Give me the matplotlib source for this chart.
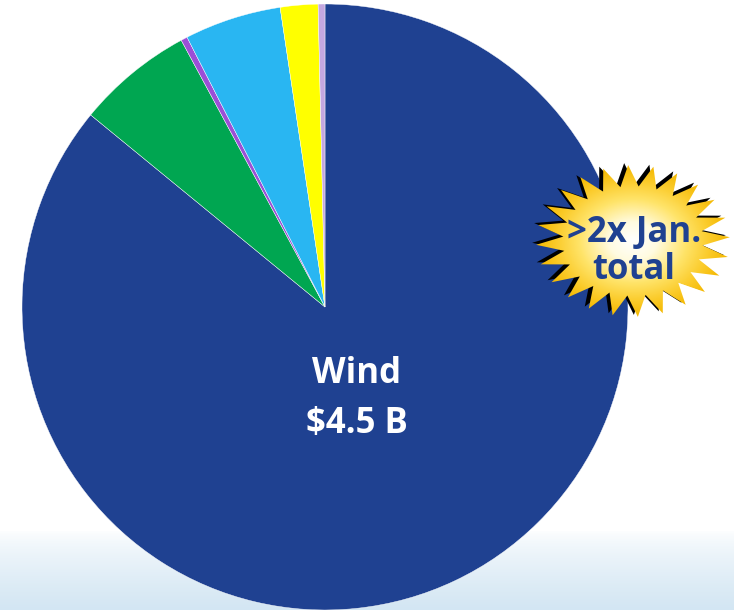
import numpy as np
import matplotlib
matplotlib.use("Agg")
import matplotlib.pyplot as plt
from matplotlib.patches import Polygon
from matplotlib.colors import LinearSegmentedColormap

# investment by source, $B
sources = ["Wind", "Other A", "Other B", "Solar", "Other C", "Other D"]
values = [4.5, 0.325, 0.018, 0.27, 0.105, 0.019]
colors = ["#1F4191", "#00A651", "#9B4FD6", "#29B6F2", "#FFFF00", "#C4A8E0"]
wind_lines = ["Wind", "$4.5 B"]
burst_lines = [">2x Jan.", "total"]

W, H = 734, 610
fig = plt.figure(figsize=(W / 100, H / 100), dpi=100)
ax = fig.add_axes([0, 0, 1, 1])

# pale blue band along the bottom
band = np.linspace(0, 1, 80).reshape(-1, 1) ** 0.7
band_cmap = LinearSegmentedColormap.from_list("band", ["#FFFFFF", "#D3E6F3"])
ax.imshow(band, extent=[0, W, 0, 80], cmap=band_cmap, aspect="auto", zorder=0)

cx, cy, r = 325, 303, 303
ax.pie(values, colors=colors, startangle=90, counterclock=False,
       center=(cx, cy), radius=r, frame=True,
       wedgeprops=dict(linewidth=0.3, edgecolor="white", zorder=1))
ax.set_xlim(0, W)
ax.set_ylim(0, H)
ax.set_aspect("auto")
ax.axis("off")

for txt, base in zip(wind_lines, [383, 433]):
    ax.text(357, H - base, txt, color="white", fontsize=25, fontweight="bold",
            ha="center", va="baseline", family="Open Sans", zorder=3)

# starburst callout
bx, by = 633, H - 241
rx, ry = 97, 76
n = 24
ang = np.linspace(0, 2 * np.pi, 2 * n, endpoint=False) + 0.05
rad = np.where(np.arange(2 * n) % 2 == 0, 1.0, 0.72)
px = bx + rx * rad * np.cos(ang)
py = by + ry * rad * np.sin(ang)
shadow = Polygon(np.column_stack([px - 4, py + 2]), closed=True,
                 facecolor="black", edgecolor="none", zorder=4)
ax.add_patch(shadow)
star = Polygon(np.column_stack([px, py]), closed=True,
               facecolor="none", edgecolor="none", zorder=5)
ax.add_patch(star)
gx, gy = np.meshgrid(np.linspace(-1, 1, 200), np.linspace(-1, 1, 200))
grad = np.sqrt(gx ** 2 + gy ** 2)
burst_cmap = LinearSegmentedColormap.from_list(
    "burst", [(0, "#FFFFFF"), (0.25, "#FFFBE0"), (0.55, "#FFE46A"),
              (0.8, "#FBCB2A"), (1, "#F4B800")])
img = ax.imshow(grad, extent=[bx - rx, bx + rx, by - ry, by + ry],
                cmap=burst_cmap, vmin=0, vmax=1.0, aspect="auto", zorder=5)
img.set_clip_path(star)

for txt, base in zip(burst_lines, [242, 279]):
    ax.text(634, H - base, txt, color="#1F4191", fontsize=25,
            fontweight="bold", ha="center", va="baseline",
            family="Open Sans", zorder=6)

fig.savefig("out.png", dpi=100)
